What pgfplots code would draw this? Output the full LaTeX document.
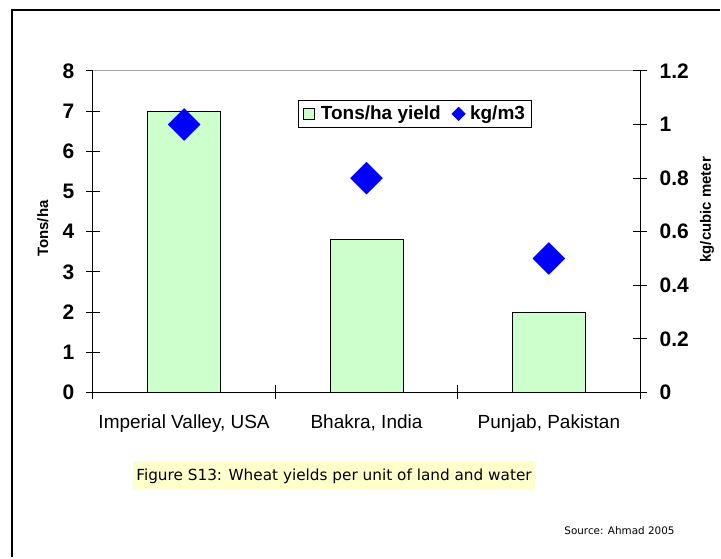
\documentclass[border=0pt]{standalone}
\usepackage{pgfplots}
\pgfplotsset{compat=1.18}
\usepackage{fontspec}
\setmainfont{Liberation Sans}
\newfontfamily\capfont{DejaVu Sans}
\definecolor{barfill}{HTML}{CCFFCC}
\definecolor{capfill}{HTML}{FFFFCC}
\begin{document}
\begin{tikzpicture}[x=1pt,y=1pt]
\path (0,0) rectangle (721,558);
\draw[line width=2pt] (12,0) -- (12,548) -- (721,548);
\begin{axis}[
  at={(93pt,165pt)}, anchor=south west,
  scale only axis, width=548pt, height=322pt,
  xmin=-0.5, xmax=2.5, ymin=0, ymax=8,
  axis x line*=bottom, axis y line*=left,
  axis line style={-, black, line width=0.8pt},
  ytick={0,1,2,3,4,5,6,7,8},
  xtick={-0.5,0.5,1.5,2.5}, xticklabels={},
  extra x ticks={0,1,2},
  extra x tick labels={{Imperial Valley, USA},{Bhakra, India},{Punjab, Pakistan}},
  extra x tick style={major tick length=0pt},
  tick align=center, major tick length=14pt,
  tick style={black, line width=0.8pt},
  /pgf/number format/assume math mode=true,
  yticklabel style={font=\bfseries\fontsize{21}{21}\selectfont, xshift=-8pt},
  xticklabel style={font=\fontsize{19}{19}\selectfont, yshift=-19pt},
  clip=false,
]
\addplot[ybar, bar width=0.4, fill=barfill, draw=black, line width=0.8pt]
  coordinates {(0,7) (1,3.8) (2,2)};
\draw[gray!70, line width=1pt] (rel axis cs:0,1) -- (rel axis cs:1,1);
\end{axis}
\begin{axis}[
  at={(93pt,165pt)}, anchor=south west,
  scale only axis, width=548pt, height=322pt,
  xmin=-0.5, xmax=2.5, ymin=0, ymax=1.2,
  axis x line=none, axis y line*=right,
  axis line style={-, black, line width=0.8pt},
  ytick={0,0.2,0.4,0.6,0.8,1,1.2},
  yticklabels={0,0.2,0.4,0.6,0.8,1,1.2},
  tick align=center, major tick length=14pt,
  tick style={black, line width=0.8pt},
  yticklabel style={font=\bfseries\fontsize{21}{21}\selectfont, xshift=9pt},
  clip=false,
  legend columns=2,
  legend style={at={(0.374,0.910)}, anchor=north west, draw=black, line width=0.8pt,
    font=\bfseries\fontsize{19}{19}\selectfont, inner sep=4pt,
    /tikz/every even column/.append style={column sep=9pt}},
]
\addlegendimage{legend image code/.code={\path[draw=none] (-1pt,0pt) -- (16pt,0pt); \draw[fill=barfill, draw=black, line width=0.6pt] (0pt,-5.5pt) rectangle (11pt,5.5pt);}}
\addlegendentry{Tons/ha yield}
\addlegendimage{legend image code/.code={\path[draw=none] (0pt,0pt) -- (16pt,0pt); \fill[blue] (6.5pt,-6.5pt) -- (13pt,0pt) -- (6.5pt,6.5pt) -- (0pt,0pt) -- cycle;}}
\addlegendentry{kg/m3}
\addplot[only marks, mark=square*, mark size=11.3pt, mark options={rotate=45, fill=blue, draw=blue}, forget plot]
  coordinates {(0,1) (1,0.8) (2,0.5)};
\end{axis}
\node[rotate=90, font=\bfseries\fontsize{15}{15}\selectfont] at (43,329) {Tons/ha};
\node[rotate=90, font=\bfseries\fontsize{15}{15}\selectfont] at (708,348) {kg/cubic meter};
\fill[capfill] (133,67) rectangle (536,96);
\node[font=\capfont\fontsize{15.3}{15.3}\selectfont, inner sep=0] at (334.5,81.5) {Figure S13: Wheat yields per unit of land and water};
\node[font=\capfont\fontsize{10.4}{10.4}\selectfont, anchor=west, inner sep=0] at (565,27) {Source: Ahmad 2005};
\end{tikzpicture}
\end{document}
